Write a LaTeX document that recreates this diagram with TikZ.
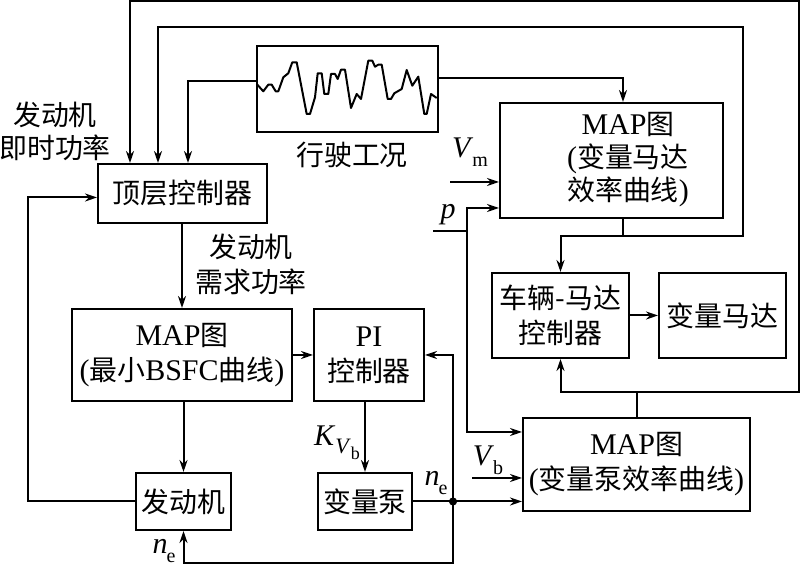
\documentclass[tikz,border=0pt]{standalone}
\usepackage{fontspec}
\setmainfont{Liberation Serif}
\newfontfamily\cjk[Scale=0.93]{Noto Sans CJK SC}
\usetikzlibrary{arrows.meta}
\newcommand\zh[1]{{\cjk #1}}
\newcommand\lsub[2]{\textit{#1}\kern-0.5pt\raisebox{-4.5pt}{\fontsize{10}{10}\selectfont #2}}
\begin{document}
\begin{tikzpicture}[x=0.5pt,y=-0.5pt, line width=1pt,
  box/.style={draw, line width=1pt, inner sep=0pt, align=center},
  arr/.style={-{Stealth[length=6pt,width=4pt]}},
  lab/.style={inner sep=0pt, align=center},
  every node/.style={font=\fontsize{15}{17.5}\selectfont}]
\useasboundingbox (0,0) rectangle (800,565);

% boxes
\node[box, minimum width=84.5pt, minimum height=29.5pt] (top) at (182.5,193.5) {\zh{顶层控制器}};
\node[box, minimum width=90.5pt, minimum height=43pt] (drive) at (347.5,89) {};
\node[box, minimum width=111.5pt, minimum height=57.5pt] (mapm) at (611.5,160.5) {};
\node[lab, font=\fontsize{15}{16.5}\selectfont] (mapmt) at (628,160) {MAP\zh{图}\\(\zh{变量马达}\\\zh{效率曲线})};
\node[box, minimum width=68.5pt, minimum height=42.5pt] (vmc) at (560.5,315.5) {\zh{车辆-马达}\\\zh{控制器}};
\node[box, minimum width=63.5pt, minimum height=42.5pt] (motor) at (722.5,315.5) {\zh{变量马达}};
\node[box, minimum width=110pt, minimum height=46pt] (bsfc) at (182,355) {MAP\zh{图}\\(\zh{最小}BSFC\zh{曲线})};
\node[box, minimum width=55pt, minimum height=46pt] (pi) at (369,355) {PI\\\zh{控制器}};
\node[box, minimum width=47.5pt, minimum height=28.5pt] (eng) at (183.5,501.5) {\zh{发动机}};
\node[box, minimum width=47pt, minimum height=28.5pt] (pump) at (365,501.5) {\zh{变量泵}};
\node[box, minimum width=113.5pt, minimum height=46.5pt] (mapp) at (636.5,464.5) {MAP\zh{图}\\(\zh{变量泵效率曲线})};

% driving cycle wave
\draw[line join=round] (256.7,84) -- (263.3,91.3) -- (268.3,84.7) -- (271.7,84.7) -- (275.7,91.3) -- (278.3,91.3)
 -- (283.3,77.3) -- (288.3,73.3) -- (292.3,62.3) -- (296.7,62.3) -- (306.7,114) -- (310,114) -- (315,97.3)
 -- (317.7,73.3) -- (321.7,73.3) -- (324.3,94) -- (328.3,94) -- (331,74) -- (335,74) -- (337.7,79)
 -- (341,69.7) -- (345,69.7) -- (351,108) -- (356.7,94) -- (361,99) -- (368.3,60.7) -- (372.3,60.7)
 -- (375,66.7) -- (378.3,64.7) -- (381.7,64.7) -- (387.7,99) -- (391,99) -- (394.3,93.3) -- (401.7,89)
 -- (406.7,70) -- (412.3,85.7) -- (418.3,76.7) -- (424.3,114) -- (426.7,114) -- (431,94) -- (436.7,98);

% named points
\coordinate (in1) at (130,0);
\coordinate (in2) at (158,0);
\coordinate (in3) at (188,0);
\coordinate (j1) at (637,392);
\coordinate (c1) at (799,392);
\coordinate (c2) at (799,1);
\coordinate (j2) at (623,236);
\coordinate (c3) at (743,236);
\coordinate (c4) at (743,27);
\coordinate (fb) at (28,501.5);
\coordinate (jn) at (453,501.5);
\coordinate (bt) at (453,563);
\coordinate (ps) at (433,231);
\coordinate (pc) at (467,231);
\coordinate (pa) at (467,208);
\coordinate (pb) at (467,432);
\coordinate (vm) at (450,182);
\coordinate (vb) at (472,478);

% connectors
\draw (mapp.north -| j1) -- (j1);
\draw[arr] (j1) -| (vmc.south);
\draw[arr] (j1) -- (c1) -- (c2) -| (top.north -| in1);
\draw (mapm.south -| j2) -- (j2);
\draw[arr] (j2) -| (vmc.north);
\draw[arr] (j2) -- (c3) -- (c4) -| (top.north -| in2);
\draw[arr] ([yshift=4pt]drive.west) -| (top.north -| in3);
\draw[arr] ([yshift=5.5pt]drive.east) -| (mapm.north -| j2);
\draw[arr] (top.south -| bsfc.north) -- (bsfc.north);
\draw[arr] (eng.west) -- (fb) |- ([yshift=-2pt]top.west);
\draw[arr] (bsfc.east) -- (pi.west);
\draw[arr] (bsfc.south -| eng.north) -- (eng.north);
\draw[arr] (pi.south -| pump.north) -- (pump.north);
\draw[arr] (vmc.east) -- (motor.west);
\draw (pump.east) -- (jn);
\draw[arr] (jn) -- (mapp.west |- jn);
\draw[arr] (jn) |- (pi.east);
\draw[arr] (jn) -- (bt) -| (eng.south);
\filldraw[fill=black] (jn) circle[radius=1.5pt];
\draw (ps) -- (pc);
\draw[{Stealth[length=6pt,width=4pt]}-{Stealth[length=6pt,width=4pt]}] (mapm.west |- pa) -- (pa) -- (pb) -- (mapp.west |- pb);
\draw[arr] (vm) -- (mapm.west |- vm);
\draw[arr] (vb) -- (mapp.west |- vb);

% labels
\node[lab, font=\fontsize{15}{16.5}\selectfont] (l1) at (55,131) {\zh{发动机}\\\zh{即时功率}};
\node[lab] (l2) at (352,155) {\zh{行驶工况}};
\node[lab] (l3) at (251,264) {\zh{发动机}\\\zh{需求功率}};
\node[lab] (l4) at (470,152) {\lsub{V}{m}};
\node[lab] (l5) at (448,215) {\textit{p}};
\node[lab] (l6) at (488,460) {\lsub{V}{b}};
\node[lab] (l7) at (337,443) {\textit{K}\raisebox{-4pt}{\fontsize{11}{11}\selectfont\textit{V}\raisebox{-3pt}{\fontsize{9}{9}\selectfont b}}};
\node[lab] (l8) at (436,483) {\lsub{n}{e}};
\node[lab] (l9) at (164,551) {\lsub{n}{e}};
\end{tikzpicture}
\end{document}
